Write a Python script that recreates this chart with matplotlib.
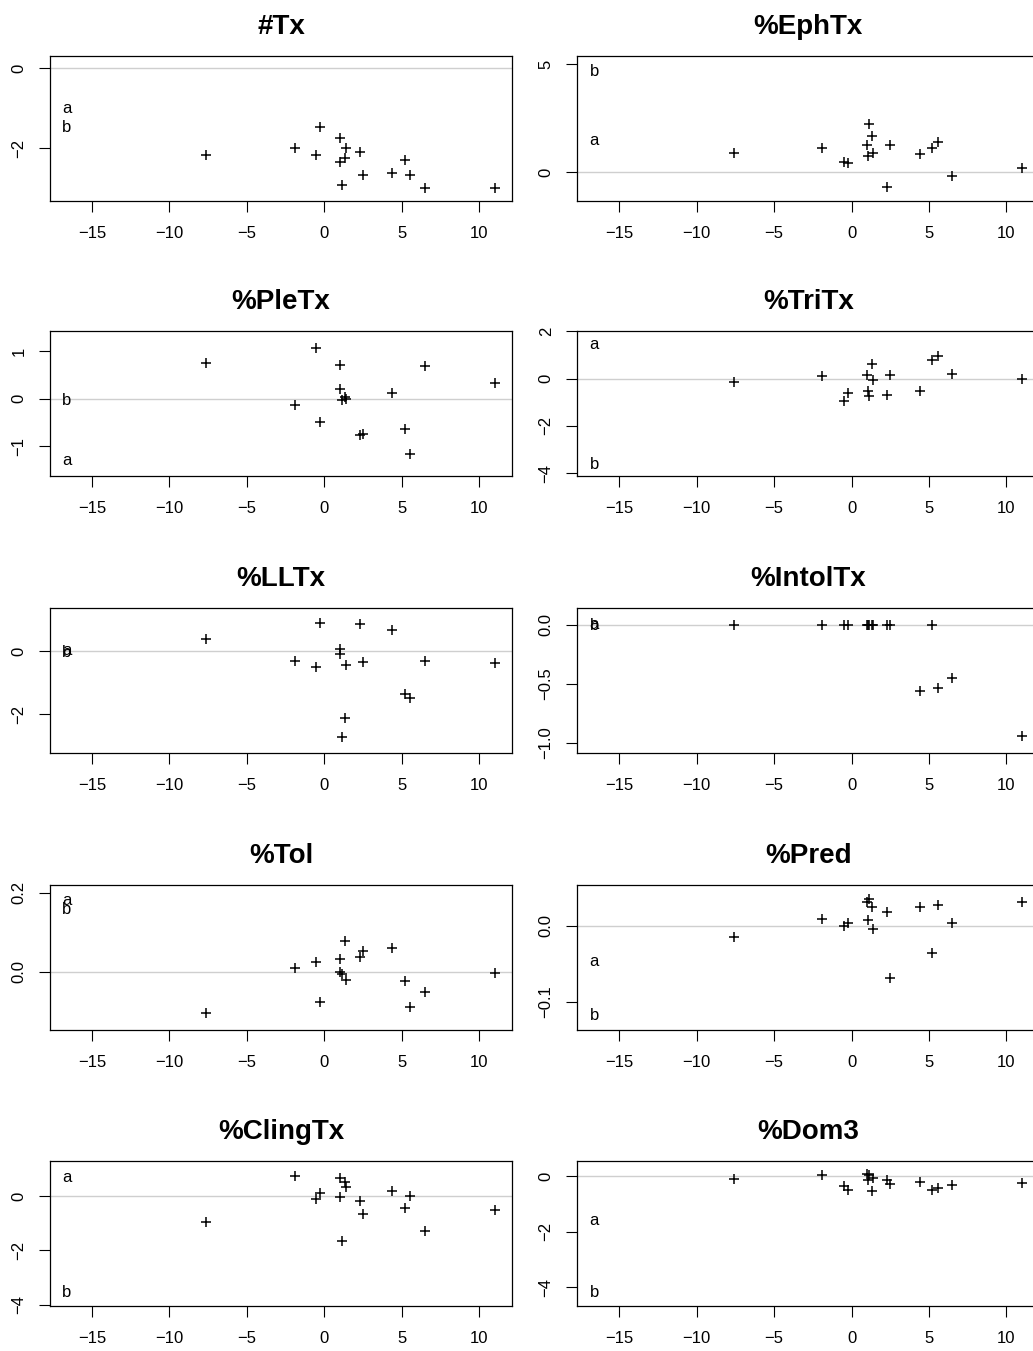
import matplotlib
matplotlib.use("Agg")
import matplotlib.pyplot as plt

plt.rcParams["font.family"] = ["Liberation Sans", "DejaVu Sans"]

W, H = 1033, 1351

# site x values (shared by all panels)
x_sites = [-7.6, -1.9, -0.5, -0.25, 1.0, 1.05, 1.15, 1.35, 1.4, 2.3, 2.5, 4.4, 5.2, 5.55, 6.5, 11.0]

titles = ["#Tx", "%EphTx", "%PleTx", "%TriTx", "%LLTx",
          "%IntolTx", "%Tol", "%Pred", "%ClingTx", "%Dom3"]

y_tx = [-2.17, -1.99, -2.17, -1.46, -1.74, -2.35, -2.90, -2.23, -1.99, -2.08, -2.67, -2.61, -2.29, -2.67, -2.98, -2.98]
y_eph = [0.90, 1.10, 0.48, 0.43, 1.24, 0.73, 2.24, 1.69, 0.90, -0.68, 1.24, 0.85, 1.13, 1.38, -0.17, 0.17]
y_ple = [0.74, -0.14, 1.07, -0.48, 0.70, 0.20, -0.02, 0.03, 0.0, -0.77, -0.73, 0.13, -0.64, -1.16, 0.69, 0.32]
y_tri = [-0.14, 0.11, -0.95, -0.59, 0.14, -0.52, -0.73, 0.61, -0.07, -0.71, 0.17, -0.52, 0.79, 0.96, 0.21, -0.03]
y_ll = [0.39, -0.31, -0.50, 0.87, 0.05, -0.10, -2.73, -2.12, -0.45, 0.84, -0.34, 0.65, -1.37, -1.48, -0.31, -0.37]
y_intol = [0.0, 0.0, 0.0, 0.0, 0.0, 0.0, 0.0, 0.0, 0.0, 0.0, 0.0, -0.56, 0.0, -0.54, -0.45, -0.94]
y_tol = [-0.105, 0.008, 0.023, -0.076, 0.031, 0.0, -0.007, 0.076, -0.021, 0.038, 0.052, 0.059, -0.024, -0.089, -0.051, -0.003]
y_pred = [-0.015, 0.009, 0.0, 0.004, 0.031, 0.008, 0.035, 0.025, -0.004, 0.019, -0.068, 0.025, -0.035, 0.028, 0.004, 0.031]
y_cling = [-0.95, 0.72, -0.12, 0.12, 0.66, -0.04, -1.66, 0.51, 0.33, -0.18, -0.65, 0.18, -0.43, 0.0, -1.29, -0.50]
y_dom3 = [-0.11, 0.04, -0.36, -0.48, 0.07, -0.12, 0.04, -0.53, -0.05, -0.12, -0.29, -0.20, -0.48, -0.42, -0.30, -0.24]

y_all = [y_tx, y_eph, y_ple, y_tri, y_ll, y_intol, y_tol, y_pred, y_cling, y_dom3]

# letter labels drawn at the left of each panel
label_x = -16.6
label_a = [-1.01, 1.44, -1.30, 1.44, 0.02, 0.0, 0.181, -0.047, 0.67, -1.58]
label_b = [-1.47, 4.69, -0.03, -3.63, -0.05, -0.01, 0.158, -0.118, -3.54, -4.18]

ylims = [(-3.31, 0.30), (-1.35, 5.39), (-1.62, 1.42), (-4.12, 2.02), (-3.23, 1.36),
         (-1.085, 0.14), (-0.148, 0.219), (-0.137, 0.054), (-4.04, 1.28), (-4.67, 0.55)]
yticks = [[-2, 0], [0, 5], [-1, 0, 1], [-4, -2, 0, 2], [-2, 0],
          [-1.0, -0.5, 0.0], [0.0, 0.2], [-0.1, 0.0], [-4, -2, 0], [-4, -2, 0]]
ytick_labels = [["\u22122", "0"], ["0", "5"], ["\u22121", "0", "1"], ["\u22124", "\u22122", "0", "2"],
                ["\u22122", "0"], ["\u22121.0", "\u22120.5", "0.0"], ["0.0", "0.2"], ["\u22120.1", "0.0"],
                ["\u22124", "\u22122", "0"], ["\u22124", "\u22122", "0"]]
xticks = [-15, -10, -5, 0, 5, 10]
xlim = (-17.7, 12.12)

col_left = [50, 577.3]
row_top = [56, 331, 608, 885, 1161]
box_w, box_h = 462, 145

fig = plt.figure(figsize=(W / 100, H / 100), dpi=100)

for i in range(10):
    r, c = divmod(i, 2)
    ax = fig.add_axes([col_left[c] / W, 1 - (row_top[r] + box_h) / H, box_w / W, box_h / H])
    ax.axhline(0, color="#cfcfcf", lw=1.0, zorder=1)
    ax.plot(x_sites, y_all[i], "+", color="black", ms=7.5, mew=1.1, zorder=3)
    ax.text(label_x, label_a[i], "a", ha="center", va="center", fontsize=12)
    ax.text(label_x, label_b[i], "b", ha="center", va="center", fontsize=12)
    ax.set_xlim(*xlim)
    ax.set_ylim(*ylims[i])
    ax.set_xticks(xticks, ["\u2212%d" % -t if t < 0 else "%d" % t for t in xticks])
    ax.set_yticks(yticks[i], ytick_labels[i])
    ax.tick_params(direction="out", length=8, width=0.8, labelsize=12, color="black")
    ax.tick_params(axis="x", pad=10)
    ax.tick_params(axis="y", pad=9)
    for lab in ax.get_yticklabels():
        lab.set_rotation(90)
        lab.set_va("center")
    for sp in ax.spines.values():
        sp.set_linewidth(0.9)
    ax.set_title(titles[i], fontsize=20, fontweight="bold", pad=16)

fig.savefig("out.png", dpi=100)
